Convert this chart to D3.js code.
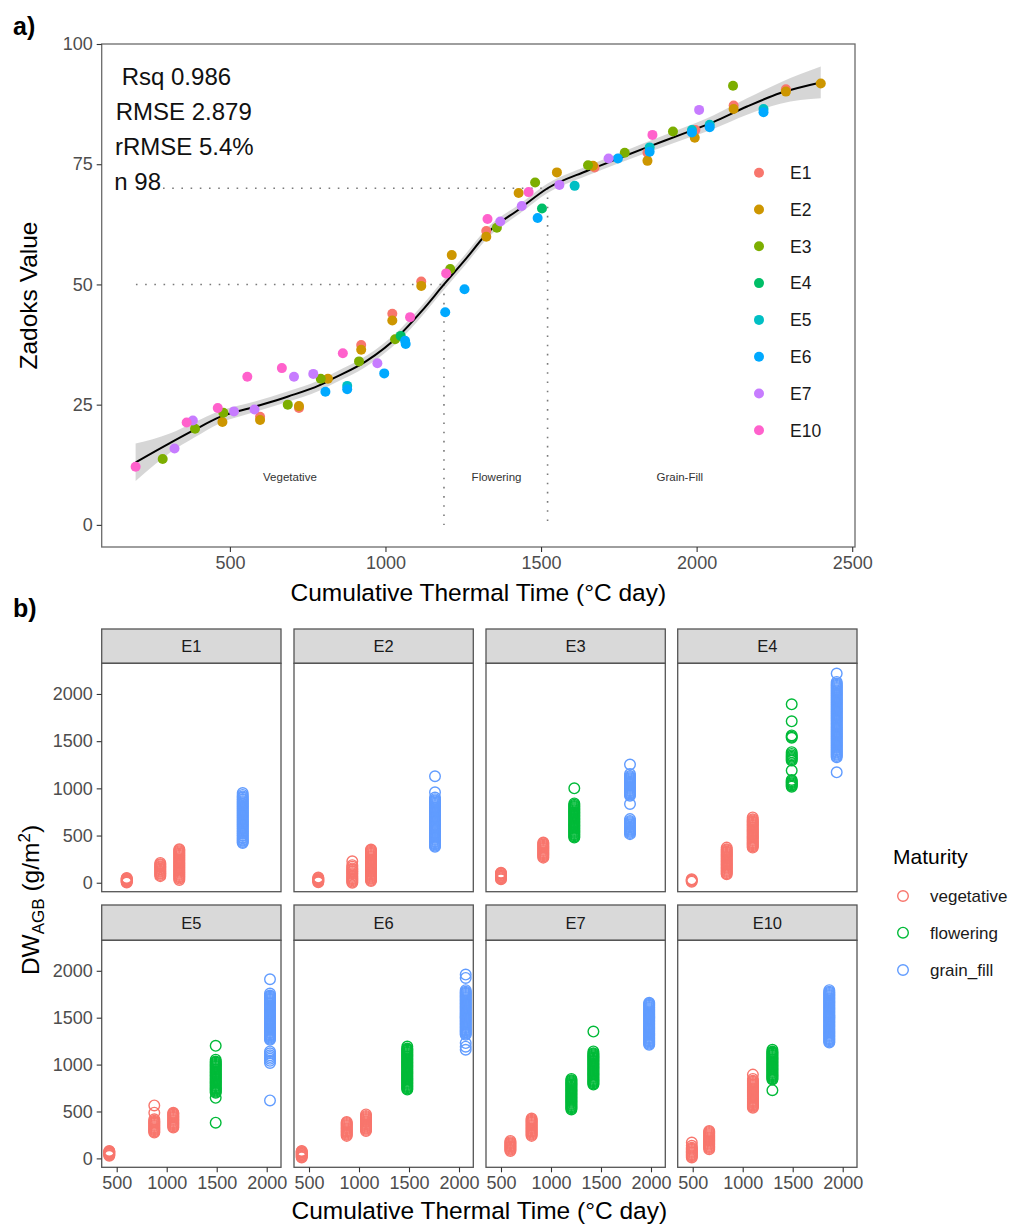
<!DOCTYPE html>
<html><head><meta charset="utf-8">
<script src="https://cdn.jsdelivr.net/npm/d3@7"></script>
<style>body{margin:0;background:#fff}svg{display:block;font-family:"Liberation Sans",Arial,sans-serif}</style>
</head><body><svg id="c" width="1027" height="1225"></svg>
<script>
// ---------- Panel a data ----------
const envs = ["E1","E2","E3","E4","E5","E6","E7","E10"];
const envColors = ["#F8766D","#CD9600","#7CAE00","#00BE67","#00BFC4","#00A9FF","#C77CFF","#FF61CC"];
const zE1 = [[597,22.5],[722,24.3],[922,37.4],[1022,43.9],[1115,50.6],[1324,61.1],[1672,74.3],[1842,77.4],[1996,82.1],[2119,87.2],[2287,90.6]];
const zE2 = [[476,21.4],[597,21.8],[722,24.7],[815,30.4],[922,36.4],[1022,42.5],[1115,49.7],[1213,56.1],[1324,59.9],[1428,69.0],[1551,73.3],[1667,74.7],[1842,75.7],[1994,80.5],[2119,86.5],[2287,90.1],[2399,91.8]];
const zE3 = [[284,13.7],[388,20.0],[479,23.3],[686,25.0],[792,30.4],[915,34.0],[1031,38.6],[1208,53.2],[1358,61.8],[1481,71.2],[1651,74.8],[1769,77.4],[1924,81.8],[2117,91.3]];
const zE4 = [[1049,39.3],[1503,65.8]];
const zE5 = [[877,28.9],[1608,70.5],[1849,78.5],[1985,82.1],[2042,83.2],[2215,86.5]];
const zE6 = [[807,27.7],[877,28.2],[996,31.5],[1063,38.3],[1065,37.6],[1192,44.2],[1254,49.0],[1489,63.8],[1747,76.2],[1849,77.6],[1985,81.6],[2042,82.7],[2215,85.8]];
const zE7 = [[322,15.9],[381,21.7],[513,23.6],[579,24.0],[706,30.8],[768,31.4],[974,33.6],[1369,63.1],[1438,66.3],[1559,70.7],[1717,76.2],[2008,86.3]];
const zE10 = [[197,12.1],[361,21.3],[461,24.3],[556,30.8],[667,32.6],[863,35.7],[1079,43.2],[1195,52.3],[1328,63.6],[1460,69.2],[1858,81.1]];
const zadoks = [zE1,zE2,zE3,zE4,zE5,zE6,zE7,zE10];

const smoothX  = [197,307,387,467,577,687,787,837,937,1047,1117,1188,1257,1326,1433,1521,1647,1737,1840,1947,2055,2162,2269,2399];
const smoothY  = [13,17,19.8,22.4,24.5,26.7,29.0,30.6,34.0,39.6,44.5,50.0,55.2,60.6,65.8,70.0,73.6,75.9,78.5,81.1,83.8,87.0,89.8,92.0];
const smoothSE = [3.9,2.0,1.6,1.3,1.1,1.1,1.1,1.1,1.1,1.1,1.1,1.1,1.1,1.1,1.0,1.0,1.0,1.0,1.1,1.2,1.4,1.7,2.2,3.3];

const statLines = [" Rsq 0.986","RMSE 2.879","rRMSE 5.4%","n 98"];
const phaseLabels = [["Vegetative",693],["Flowering",1357],["Grain-Fill",1946]];
const aXTicks = [500,1000,1500,2000,2500];
const aYTicks = [0,25,50,75,100];

// ---------- Panel b data ----------
const stages = ["vegetative","flowering","grain_fill"];
const stageColors = ["#F8766D","#00BA38","#619CFF"];
const dwE1 = [
 {tt:600,s:"vegetative",dw:[2,8,15,20,27,32,39,44,50]},
 {tt:936,s:"vegetative",dw:[70,81,94,104,117,127,140,150,163,173,186,196,210]},
 {tt:1126,s:"vegetative",dw:[30,44,57,69,81,93,105,117,129,141,153,165,177,189,201,213,225,237,249,261,273,285,297,309,321,333,345,355]},
 {tt:1760,s:"grain_fill",dw:[420,432,446,456,470,480,494,504,518,528,542,552,566,576,590,600,614,624,638,648,662,672,686,696,710,720,734,744,758,768,782,792,806,816,830,840,854,864,878,888,902,915,930,951]}];
const dwE2 = [
 {tt:593,s:"vegetative",dw:[5,12,20,26,34,40,48,55]},
 {tt:933,s:"vegetative",dw:[0,12,25,36,48,61,75,90,101,116,124,140,152,170,186,227]},
 {tt:1120,s:"vegetative",dw:[18,30,42,53,65,76,88,99,111,122,134,145,157,168,180,191,203,214,226,237,249,260,272,283,295,306,318,329,341,351]},
 {tt:1760,s:"grain_fill",dw:[380,392,405,416,429,440,453,464,477,488,501,512,525,536,549,560,573,584,597,608,621,632,645,656,669,680,693,704,717,728,741,752,765,776,789,800,813,824,837,848,861,872,885,902,958,1128]}];
const dwE3 = [
 {tt:500,s:"vegetative",dw:[36,46,56,64,74,82,92,100,106]},
 {tt:923,s:"vegetative",dw:[266,278,290,301,313,324,336,347,359,370,382,393,405,416,426]},
 {tt:1233,s:"flowering",dw:[479,491,503,514,526,537,549,560,572,583,595,606,618,629,641,652,664,675,687,698,710,721,733,744,756,767,779,790,802,813,825,840,1000]},
 {tt:1790,s:"grain_fill",dw:[515,527,539,550,562,573,585,596,608,619,631,642,654,674,834,922,934,946,957,969,980,992,1003,1015,1026,1038,1049,1061,1072,1084,1095,1107,1118,1130,1153,1252]}];
const dwE4 = [
 {tt:490,s:"vegetative",dw:[11,20,28,36]},
 {tt:840,s:"vegetative",dw:[89,101,113,124,136,147,159,170,182,193,205,216,228,239,251,262,274,285,297,308,320,331,343,354,372]},
 {tt:1100,s:"vegetative",dw:[372,384,396,407,419,430,442,453,465,476,488,499,511,522,534,545,557,568,580,591,603,614,626,637,649,660,672,692]},
 {tt:1490,s:"flowering",dw:[1018,1030,1042,1053,1065,1076,1089,1188,1294,1308,1321,1335,1349,1365,1383,1536,1548,1561,1710,1890]},
 {tt:1940,s:"grain_fill",dw:[1170,1330,1342,1355,1366,1379,1390,1403,1414,1427,1438,1451,1462,1475,1486,1499,1510,1523,1534,1547,1558,1571,1582,1595,1606,1619,1630,1643,1654,1667,1678,1691,1702,1715,1726,1739,1750,1763,1774,1787,1798,1811,1822,1835,1846,1859,1870,1883,1894,1907,1918,1931,1942,1955,1966,1979,1990,2003,2014,2027,2038,2051,2062,2075,2086,2099,2110,2128,2217]}];
const dwE5 = [
 {tt:426,s:"vegetative",dw:[28,36,45,52,61,68,74,80]},
 {tt:876,s:"vegetative",dw:[275,287,299,310,322,333,345,356,368,379,391,402,416,487,565]},
 {tt:1066,s:"vegetative",dw:[328,340,352,363,375,386,398,409,421,432,444,455,467,478,487]},
 {tt:1490,s:"flowering",dw:[381,646,699,711,723,734,746,757,769,780,792,803,815,826,838,849,861,872,884,895,907,918,930,941,953,964,976,987,999,1010,1022,1033,1052,1200]},
 {tt:2033,s:"grain_fill",dw:[618,1017,1040,1061,1080,1099,1120,1140,1264,1276,1288,1299,1311,1322,1334,1345,1357,1368,1380,1391,1403,1414,1426,1437,1449,1460,1472,1483,1495,1506,1518,1529,1541,1552,1564,1575,1587,1598,1610,1621,1633,1644,1656,1667,1679,1690,1702,1713,1725,1736,1758,1910]}];
const dwE6 = [
 {tt:427,s:"vegetative",dw:[10,18,27,34,43,50,59,66,74,80]},
 {tt:877,s:"vegetative",dw:[240,252,264,275,287,298,310,321,333,344,356,367,378,388]},
 {tt:1070,s:"vegetative",dw:[292,304,316,327,339,350,362,373,385,396,408,419,431,442,453,469]},
 {tt:1483,s:"flowering",dw:[734,746,758,769,781,792,804,815,827,838,850,861,873,884,896,907,919,930,942,953,965,976,988,999,1011,1022,1034,1045,1057,1068,1080,1091,1103,1114,1126,1137,1149,1160,1171,1193]},
 {tt:2067,s:"grain_fill",dw:[1158,1191,1229,1317,1329,1341,1352,1364,1375,1387,1398,1410,1421,1433,1444,1456,1467,1479,1490,1502,1513,1525,1536,1548,1559,1571,1582,1594,1605,1617,1628,1640,1651,1663,1674,1686,1697,1709,1720,1732,1743,1755,1766,1777,1793,1924,1960]}];
const dwE7 = [
 {tt:594,s:"vegetative",dw:[80,92,104,115,127,138,150,161,173,186]},
 {tt:806,s:"vegetative",dw:[240,252,264,275,287,298,310,321,333,344,356,367,379,390,402,413,424]},
 {tt:1204,s:"flowering",dw:[522,534,546,557,569,580,592,603,615,626,638,649,661,672,684,695,707,718,730,741,753,764,776,787,799,810,822,833,847]},
 {tt:1424,s:"flowering",dw:[787,799,811,822,834,845,857,868,880,891,903,914,926,937,949,960,972,983,995,1006,1018,1029,1041,1052,1064,1075,1087,1098,1110,1121,1140,1352]},
 {tt:1982,s:"grain_fill",dw:[1211,1223,1235,1246,1258,1269,1281,1292,1304,1315,1327,1338,1350,1361,1373,1384,1396,1407,1419,1430,1442,1453,1465,1476,1488,1499,1511,1522,1534,1545,1557,1568,1580,1591,1603,1614,1626,1637,1648,1659]}];
const dwE10 = [
 {tt:491,s:"vegetative",dw:[10,22,34,45,57,68,80,91,103,114,134,169]},
 {tt:665,s:"vegetative",dw:[98,110,122,133,145,156,168,179,191,202,214,225,237,248,260,271,282,292]},
 {tt:1102,s:"vegetative",dw:[540,552,564,575,587,598,610,621,633,644,656,667,679,690,702,713,725,736,748,759,771,782,794,805,817,828,847,893]},
 {tt:1297,s:"flowering",dw:[727,840,852,864,875,887,898,910,921,933,944,956,967,979,990,1002,1013,1025,1036,1048,1059,1071,1082,1094,1105,1117,1128,1139,1158]},
 {tt:1866,s:"grain_fill",dw:[1235,1247,1259,1270,1282,1293,1305,1316,1328,1339,1351,1362,1374,1385,1397,1408,1420,1431,1443,1454,1466,1477,1489,1500,1512,1523,1535,1546,1558,1569,1581,1592,1604,1615,1627,1638,1650,1661,1673,1684,1696,1707,1719,1730,1742,1753,1765,1777,1793]}];
const dwData = [dwE1,dwE2,dwE3,dwE4,dwE5,dwE6,dwE7,dwE10];
const bXTicks = [500,1000,1500,2000];
const bYTicks = [0,500,1000,1500,2000];

// ---------- Drawing ----------
const svg = d3.select("#c");
const FONT = '"Liberation Sans",Arial,sans-serif';
const envColor = d3.scaleOrdinal().domain(envs).range(envColors);
const stageColor = d3.scaleOrdinal().domain(stages).range(stageColors);
const fmt = d3.format("d");

function styleAxis(g, fs){
  g.select(".domain").remove();
  g.selectAll(".tick line").attr("stroke","#333").attr("stroke-width",1.1);
  g.selectAll(".tick text").attr("fill","#4d4d4d").style("font-size",fs+"px").style("font-family",FONT);
}

// Panel a
const aL=101.7, aR=855, aT=44, aB=547;
const ax = d3.scaleLinear().domain([88,2509]).range([aL,aR]);
const ay = d3.scaleLinear().domain([-4.6,100]).range([aB,aT]);
const ga = svg.append("g");

ga.append("text").attr("x",13).attr("y",35).text("a)").style("font-size","25px").style("font-weight","bold").attr("fill","#000");

const dot = {stroke:"#7a7a7a","stroke-width":1.6,"stroke-dasharray":"1.6,7.6"};
function dline(x1,y1,x2,y2){
  const l = ga.append("line").attr("x1",ax(x1)).attr("y1",ay(y1)).attr("x2",ax(x2)).attr("y2",ay(y2));
  Object.entries(dot).forEach(([k,v])=>l.attr(k,v));
}
dline(198,50,1188,50); dline(1188,50,1188,0);
dline(285,70,1521,70); dline(1521,70,1521,0);

const sm = smoothX.map((x,i)=>({x,y:smoothY[i],se:smoothSE[i]}));
ga.append("path").datum(sm)
  .attr("d",d3.area().x(d=>ax(d.x)).y0(d=>ay(d.y-d.se)).y1(d=>ay(d.y+d.se)).curve(d3.curveMonotoneX))
  .attr("fill","#999").attr("fill-opacity",0.4);
ga.append("path").datum(sm)
  .attr("d",d3.line().x(d=>ax(d.x)).y(d=>ay(d.y)).curve(d3.curveMonotoneX))
  .attr("fill","none").attr("stroke","#000").attr("stroke-width",2);

envs.forEach((e,i)=>{
  ga.append("g").selectAll("circle").data(zadoks[i]).join("circle")
    .attr("cx",d=>ax(d[0])).attr("cy",d=>ay(d[1])).attr("r",5).attr("fill",envColor(e));
});

ga.selectAll(".ph").data(phaseLabels).join("text")
  .attr("x",d=>ax(d[1])).attr("y",ay(10)).attr("dy","0.35em").attr("text-anchor","middle")
  .style("font-size","11.5px").attr("fill","#333").text(d=>d[0]);

ga.selectAll(".st").data(statLines).join("text")
  .attr("x",(d,i)=>[115,115.7,115,114.3][i]).attr("y",(d,i)=>85+i*35)
  .attr("xml:space","preserve").style("white-space","pre")
  .style("font-size","24px").attr("fill","#111").text(d=>d);

const lg = ga.append("g");
envs.forEach((e,i)=>{
  const y = 172.7 + i*36.8;
  lg.append("circle").attr("cx",759).attr("cy",y).attr("r",5).attr("fill",envColor(e));
  lg.append("text").attr("x",790).attr("y",y).attr("dy","0.36em").style("font-size","17.5px").attr("fill","#1a1a1a").text(e);
});

ga.append("rect").attr("x",aL).attr("y",aT).attr("width",aR-aL).attr("height",aB-aT).attr("fill","none").attr("stroke","#6b6b6b").attr("stroke-width",1.3);
ga.append("g").attr("transform",`translate(0,${aB})`).call(d3.axisBottom(ax).tickValues(aXTicks).tickFormat(fmt).tickSize(5).tickPadding(4)).call(g=>styleAxis(g,18));
ga.append("g").attr("transform",`translate(${aL},0)`).call(d3.axisLeft(ay).tickValues(aYTicks).tickFormat(fmt).tickSize(5).tickPadding(4)).call(g=>styleAxis(g,18));
ga.append("text").attr("x",(aL+aR)/2).attr("y",601).attr("text-anchor","middle").style("font-size","24.5px").attr("fill","#000").text("Cumulative Thermal Time (°C day)");
ga.append("text").attr("transform",`translate(37,${(aT+aB)/2}) rotate(-90)`).attr("text-anchor","middle").style("font-size","24.5px").attr("fill","#000").text("Zadoks Value");

// Panel b
const gb = svg.append("g");
gb.append("text").attr("x",13).attr("y",617).text("b)").style("font-size","25px").style("font-weight","bold").attr("fill","#000");
const colL = [101.7,294,486,677.7], pW = 179.3;
const rows = [{st:629,sb:663.3,pb:891.7},{st:905,sb:940.3,pb:1167.3}];
envs.forEach((e,i)=>{
  const c = i%4, r = Math.floor(i/4), R = rows[r];
  const bx = d3.scaleLinear().domain([350,2143]).range([colL[c], colL[c]+pW]);
  const by = d3.scaleLinear().domain([-95,2325]).range([R.pb, R.sb]);
  const g = gb.append("g");
  g.append("rect").attr("x",colL[c]).attr("y",R.st).attr("width",pW).attr("height",R.sb-R.st).attr("fill","#d9d9d9").attr("stroke","#555").attr("stroke-width",1.3);
  g.append("text").attr("x",colL[c]+pW/2).attr("y",(R.st+R.sb)/2).attr("dy","0.36em").attr("text-anchor","middle").style("font-size","16.5px").attr("fill","#1a1a1a").text(e);
  const pts = [];
  dwData[i].forEach(cl=>cl.dw.forEach(v=>pts.push({tt:cl.tt,s:cl.s,v})));
  g.append("g").selectAll("circle").data(pts).join("circle")
    .attr("cx",d=>bx(d.tt)).attr("cy",d=>by(d.v)).attr("r",5.3)
    .attr("fill","none").attr("stroke",d=>stageColor(d.s)).attr("stroke-width",1.4);
  g.append("rect").attr("x",colL[c]).attr("y",R.sb).attr("width",pW).attr("height",R.pb-R.sb).attr("fill","none").attr("stroke","#555").attr("stroke-width",1.3);
  if(c===0) g.append("g").attr("transform",`translate(${colL[c]},0)`).call(d3.axisLeft(by).tickValues(bYTicks).tickFormat(fmt).tickSize(5).tickPadding(4)).call(g2=>styleAxis(g2,18));
  if(r===1) g.append("g").attr("transform",`translate(0,${R.pb})`).call(d3.axisBottom(bx).tickValues(bXTicks).tickFormat(fmt).tickSize(5).tickPadding(4)).call(g2=>styleAxis(g2,18));
});
gb.append("text").attr("x",(101.7+857)/2).attr("y",1219).attr("text-anchor","middle").style("font-size","24.5px").attr("fill","#000").text("Cumulative Thermal Time (°C day)");
const yt = gb.append("text").attr("transform",`translate(39,900) rotate(-90)`).attr("text-anchor","middle").style("font-size","24.5px").attr("fill","#000");
yt.append("tspan").text("DW");
yt.append("tspan").attr("dy","5").style("font-size","17px").text("AGB");
yt.append("tspan").attr("dy","-5").text(" (g/m");
yt.append("tspan").attr("dy","-9").style("font-size","17px").text("2");
yt.append("tspan").attr("dy","9").text(")");

gb.append("text").attr("x",893).attr("y",864).style("font-size","21px").attr("fill","#000").text("Maturity");
stages.forEach((s,i)=>{
  const y = [896,932.7,970][i];
  gb.append("circle").attr("cx",903).attr("cy",y).attr("r",5.3).attr("fill","none").attr("stroke",stageColor(s)).attr("stroke-width",1.4);
  gb.append("text").attr("x",930).attr("y",y).attr("dy","0.36em").style("font-size","17px").attr("fill","#1a1a1a").text(s);
});
</script></body></html>
